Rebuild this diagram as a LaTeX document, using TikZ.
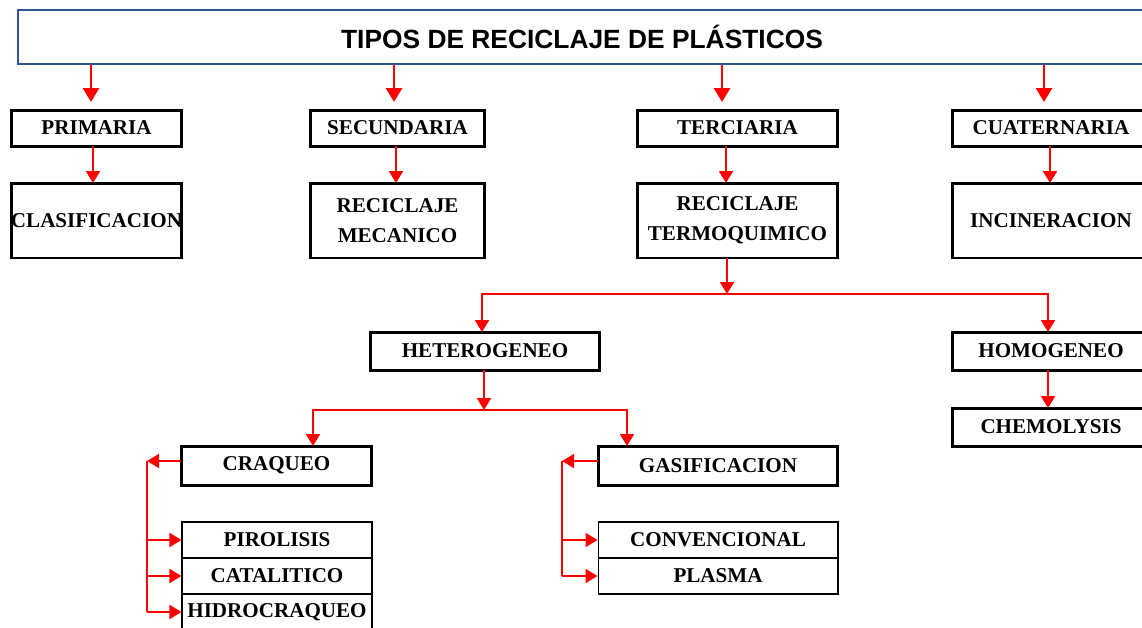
\documentclass[tikz,border=0pt]{standalone}
\usepackage{fontspec}
\setmainfont{Liberation Serif}
\newfontfamily\titlefont{Liberation Sans}
\usetikzlibrary{arrows.meta}
\definecolor{titleblue}{RGB}{47,85,151}

\begin{document}
\begin{tikzpicture}[x=0.02cm, y=-0.02cm,
  every node/.style={font=\bfseries\fontsize{12}{17}\selectfont},
  box/.style={draw,line width=1.7pt,fill=white,minimum height=0.72cm,align=center,inner sep=1pt,outer sep=0pt},
  tall/.style={box,minimum height=1.5cm},
  item/.style={draw,line width=0.6pt,fill=white,minimum height=0.72cm,minimum width=3.8cm,inner sep=1pt},
  toparr/.style={red,line width=1.6pt,-{Triangle[width=0.32cm,length=0.28cm]}},
  arr/.style={red,line width=1.1pt,-{Triangle[width=0.28cm,length=0.24cm]}},
  link/.style={red,line width=1.1pt}]
  \clip (0,0) rectangle (1142,627);
  \node[draw=titleblue,line width=1.1pt,minimum width=22.56cm,minimum height=1.08cm,
    font=\titlefont\bfseries\fontsize{15}{18}\selectfont] (title) at (582,37) {TIPOS DE RECICLAJE DE PLÁSTICOS};
  % first row
  \node[box,minimum width=3.42cm] (prim) at (96.5,128) {PRIMARIA};
  \node[box,minimum width=3.5cm] (sec) at (397.5,128) {SECUNDARIA};
  \node[box,minimum width=4.02cm] (ter) at (737.5,128) {TERCIARIA};
  \node[box,minimum width=3.96cm] (cuat) at (1051,128) {CUATERNARIA};
  \node[tall,minimum width=3.42cm] (clas) at (96.5,220.5) {\makebox[3cm]{CLASIFICACION}};
  \node[tall,minimum width=3.5cm] (mec) at (397.5,220.5) {RECICLAJE\\MECANICO};
  \node[tall,minimum width=4.02cm] (termo) at (737.5,220.5) {RECICLAJE\\TERMOQUIMICO};
  \node[tall,minimum width=3.96cm] (incin) at (1051,220.5) {INCINERACION};
  \foreach \n/\dx in {prim/-0.11cm,sec/-0.07cm,ter/-0.31cm,cuat/-0.14cm}
    \draw[toparr,shorten >=0.16cm] ([xshift=\dx]\n.north |- title.south) -- ([xshift=\dx]\n.north);
  \draw[arr] ([xshift=-0.07cm]prim.south) -- ([xshift=-0.07cm]prim.south |- clas.north);
  \draw[arr] ([xshift=-0.03cm]sec.south) -- ([xshift=-0.03cm]sec.south |- mec.north);
  \draw[arr] ([xshift=-0.23cm]ter.south) -- ([xshift=-0.23cm]ter.south |- termo.north);
  \draw[arr] ([xshift=-0.02cm]cuat.south) -- ([xshift=-0.02cm]cuat.south |- incin.north);
  % termoquimico branch
  \node[box,minimum width=4.6cm,minimum height=0.76cm] (het) at (485,351) {HETEROGENEO};
  \node[box,minimum width=3.96cm,minimum height=0.76cm] (hom) at (1051,351) {HOMOGENEO};
  \node[box,minimum width=3.96cm,minimum height=0.76cm] (chem) at (1051,427) {CHEMOLYSIS};
  \coordinate (tsplit) at ([xshift=-0.21cm,yshift=-0.72cm]termo.south);
  \draw[arr] ([xshift=-0.21cm]termo.south) -- (tsplit);
  \draw[arr] (tsplit) -| ([xshift=-0.06cm]het.north);
  \draw[arr] (tsplit) -| ([xshift=-0.06cm]hom.north);
  \draw[arr] ([xshift=-0.06cm]hom.south) -- ([xshift=-0.06cm]hom.south |- chem.north);
  % heterogeneo branch
  \node[box,minimum width=3.82cm,minimum height=0.78cm] (craq) at (276.5,465.5) {CRAQUEO};
  \node[box,minimum width=4.8cm,minimum height=0.78cm] (gas) at (718,465.5) {GASIFICACION};
  \coordinate (hsplit) at ([xshift=-0.02cm,yshift=-0.8cm]het.south);
  \draw[arr] ([xshift=-0.02cm]het.south) -- (hsplit);
  \draw[arr] (hsplit) -| ([xshift=0.73cm]craq.north);
  \draw[arr] (hsplit) -| ([xshift=-1.82cm]gas.north);
  \node[item] (pir) at (277,540) {PIROLISIS};
  \node[item] (cat) at (277,576) {CATALITICO};
  \node[item] (hid) at (277,612) {HIDROCRAQUEO};
  \node[item,minimum width=4.8cm] (conv) at (718,540) {CONVENCIONAL};
  \node[item,minimum width=4.8cm] (plas) at (718,576) {PLASMA};
  \coordinate (cbus) at ([xshift=-0.68cm,yshift=0.09cm]craq.west);
  \draw[arr] ([yshift=0.09cm]craq.west) -- (cbus);
  \draw[link] (cbus) -- (cbus |- hid.west);
  \foreach \n in {pir,cat,hid}
    \draw[arr] (cbus |- \n.west) -- (\n.west);
  \coordinate (gbus) at ([xshift=-0.72cm,yshift=0.09cm]gas.west);
  \draw[arr] ([yshift=0.09cm]gas.west) -- (gbus);
  \draw[link] (gbus) -- (gbus |- plas.west);
  \foreach \n in {conv,plas}
    \draw[arr] (gbus |- \n.west) -- (\n.west);
\end{tikzpicture}
\end{document}
